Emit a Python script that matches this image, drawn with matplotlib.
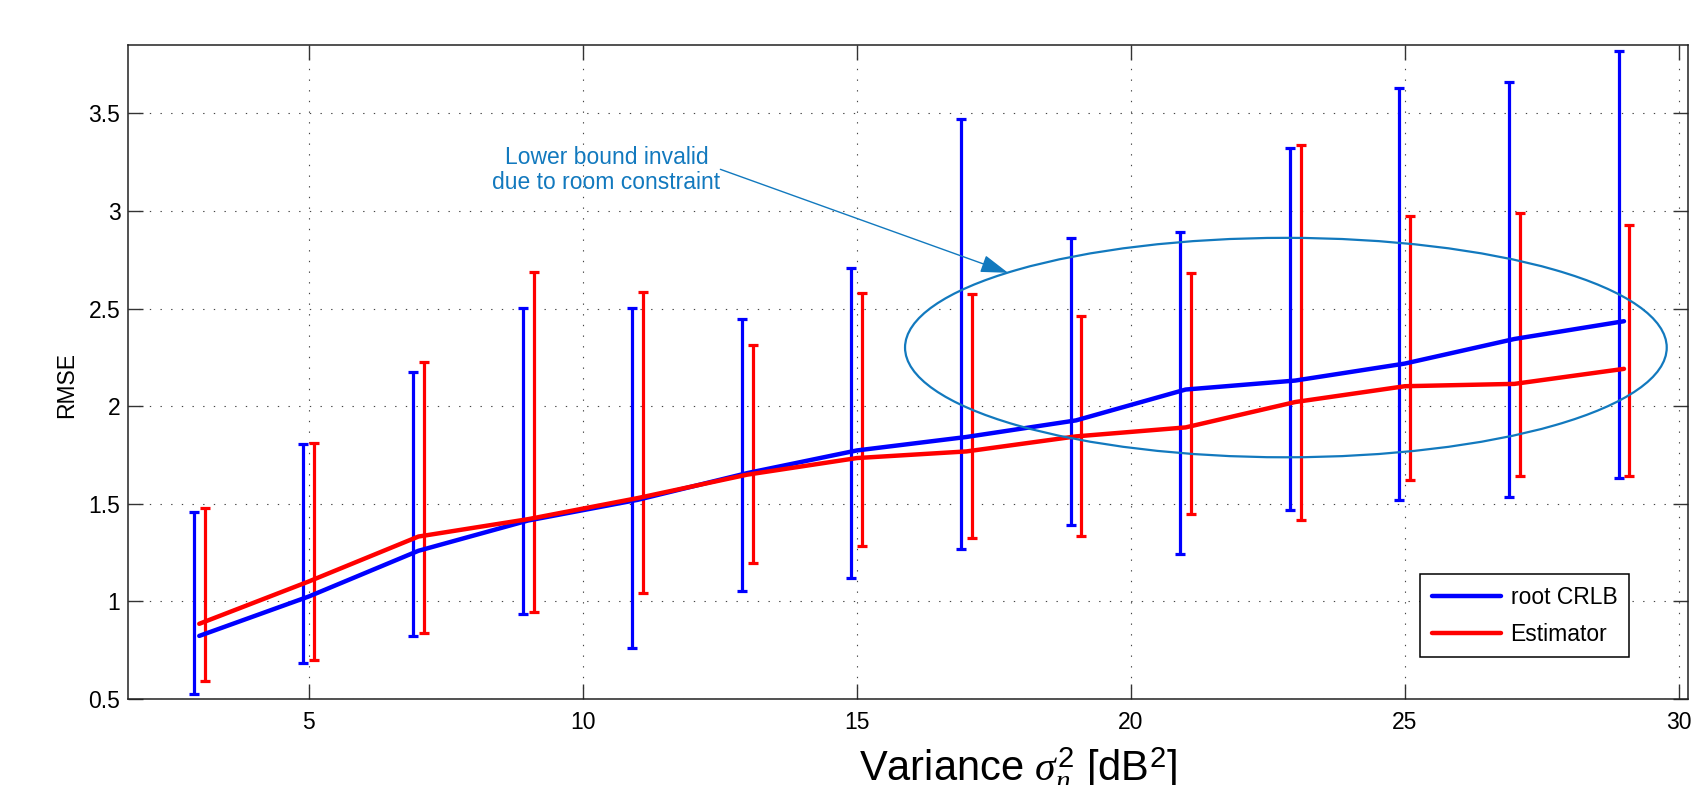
import matplotlib.pyplot as plt
from matplotlib.patches import Ellipse
from matplotlib.ticker import FormatStrFormatter
import numpy as np

plt.rcParams['font.family'] = ['Liberation Sans', 'DejaVu Sans']
plt.rcParams['mathtext.fontset'] = 'custom'
plt.rcParams['mathtext.rm'] = 'Liberation Sans'
plt.rcParams['mathtext.it'] = 'Liberation Serif:italic'

# variance values (dB^2)
variance = [3, 5, 7, 9, 11, 13, 15, 17, 19, 21, 23, 25, 27, 29]

# root CRLB: mean curve and spread
crlb = [0.823, 1.025, 1.259, 1.414, 1.520, 1.657, 1.773, 1.842, 1.927, 2.085, 2.131, 2.218, 2.344, 2.435]
crlb_lo = [0.527, 0.683, 0.823, 0.936, 0.763, 1.054, 1.119, 1.268, 1.392, 1.244, 1.469, 1.517, 1.534, 1.632]
crlb_hi = [1.457, 1.808, 2.177, 2.504, 2.504, 2.444, 2.709, 3.469, 2.862, 2.893, 3.324, 3.632, 3.661, 3.820]

# estimator RMSE: mean curve and spread
est = [0.885, 1.102, 1.332, 1.421, 1.529, 1.649, 1.734, 1.768, 1.845, 1.891, 2.021, 2.102, 2.114, 2.191]
est_lo = [0.592, 0.700, 0.837, 0.948, 1.042, 1.196, 1.285, 1.324, 1.336, 1.447, 1.418, 1.620, 1.644, 1.644]
est_hi = [1.478, 1.811, 2.227, 2.686, 2.584, 2.315, 2.580, 2.572, 2.464, 2.683, 3.336, 2.973, 2.987, 2.927]

note_color = '#1279be'

fig = plt.figure(figsize=(17, 7.85), dpi=100)
ax = fig.add_axes([0.0753, 0.1096, 0.9177, 0.8331])

x = np.array(variance, dtype=float)


def draw_spread(xs, lo, hi, color):
    lo = np.array(lo)
    hi = np.array(hi)
    mid = (lo + hi) / 2
    ax.errorbar(xs, mid, yerr=(hi - lo) / 2, fmt='none', ecolor=color,
                elinewidth=2.3, capsize=3.5, capthick=2.3, zorder=2)


draw_spread(x - 0.1, crlb_lo, crlb_hi, 'blue')
draw_spread(x + 0.1, est_lo, est_hi, 'red')

ax.plot(x, crlb, color='blue', lw=3.2, solid_capstyle='round', label='root CRLB', zorder=3)
ax.plot(x, est, color='red', lw=3.2, solid_capstyle='round', label='Estimator', zorder=3)

# region where the bound does not hold
ax.add_patch(Ellipse((22.83, 2.30), width=13.9, height=1.124, fill=False,
                     edgecolor=note_color, lw=1.6, zorder=4))
ax.text(10.43, 3.21, 'Lower bound invalid\ndue to room constraint', color=note_color,
        fontsize=16.5, ha='center', va='center', linespacing=1.12)
ax.annotate('', xy=(17.76, 2.683), xytext=(12.51, 3.213),
            arrowprops=dict(arrowstyle='-|>,head_length=1.7,head_width=0.55',
                            color=note_color, lw=1.0, mutation_scale=10,
                            shrinkA=0, shrinkB=0), zorder=4)

ax.set_xlim(1.7, 30.17)
ax.set_ylim(0.5, 3.85)
ax.set_xticks([5, 10, 15, 20, 25, 30])
ax.set_yticks([0.5, 1, 1.5, 2, 2.5, 3, 3.5])
ax.yaxis.set_major_formatter(FormatStrFormatter('%g'))
ax.tick_params(direction='in', length=11, width=1, colors='#333333', labelcolor='black',
               labelsize=16.5, top=True, right=True)
ax.tick_params(axis='x', pad=8.5)
ax.tick_params(axis='y', pad=5.5)
ax.grid(True, linestyle=(0, (1.2, 8.4)), lw=0.8, color='#444444')
for s in ax.spines.values():
    s.set_linewidth(1.1)
    s.set_color('#222222')

ax.set_ylabel('RMSE', fontsize=16.5)
ax.yaxis.set_label_coords(-0.032, 0.48)

fig.text(0.599, 0.004, r'Variance $\sigma_n^2$ [dB$^2$]', fontsize=30,
         ha='center', va='baseline')

leg = ax.legend(loc='lower right', bbox_to_anchor=(0.962, 0.064), borderaxespad=0,
                fontsize=16.5, handlelength=3.05, handletextpad=0.4, labelspacing=0.6,
                borderpad=0.5, fancybox=False, framealpha=1, edgecolor='black')
leg.get_frame().set_linewidth(1.1)

fig.savefig('out.png', dpi=100)
